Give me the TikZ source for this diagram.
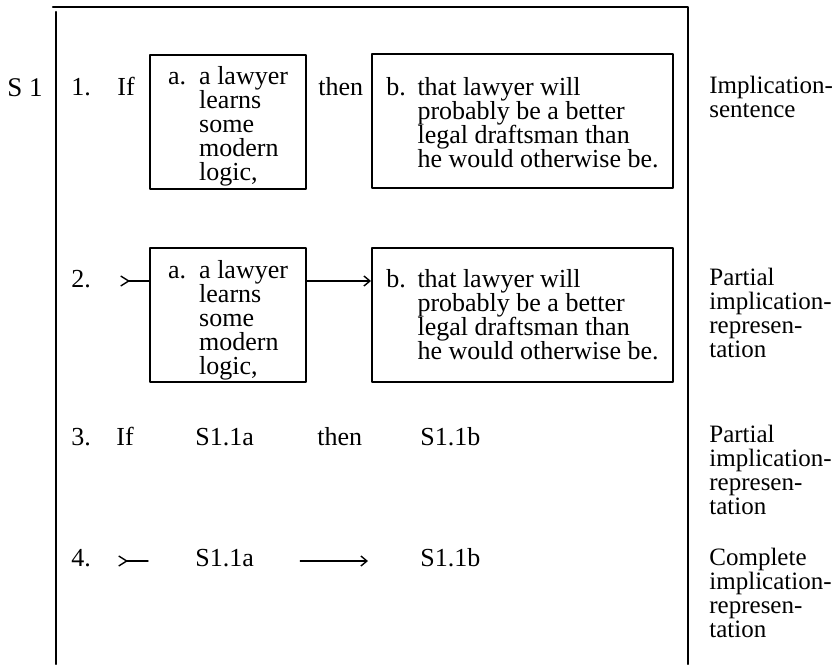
\documentclass[tikz,border=0pt]{standalone}
\usepackage{fontspec}
\setmainfont{Liberation Serif}
\usetikzlibrary{arrows.meta}
\newcommand{\itm}[1]{\makebox[1.2em][l]{#1}}
\newcommand{\lift}[1]{\rule{0pt}{#1}}
\begin{document}
\begin{tikzpicture}[x=0.5pt,y=-0.5pt,font=\fontsize{13}{12}\selectfont,line join=round,line cap=round,
		>={Straight Barb[length=3pt,width=5pt]},
		txt/.style={anchor=base west,inner sep=0pt},
		lbl/.style={anchor=north west,inner sep=0pt,align=left,font=\fontsize{12.5}{12}\selectfont},
		outline/.style={line width=1.2pt},
		stmt/.style={draw,line width=1pt,align=left,inner sep=0pt,minimum height=67pt},
		frege/.style={{Straight Barb[reversed,length=4pt,width=5pt]}-,line width=0.7pt}]
				\useasboundingbox (0,0) rectangle (834,664);
				\path 	
				(53,7) coordinate (TL)
				(688,7) coordinate (TR)
				(688,664) coordinate (BR)
				(56,12) coordinate (LT)
				(56,664) coordinate (LB)
				(120,281) coordinate (T2)
				(118,561) coordinate (T4)
				(148,561) coordinate (T4')
				;
				\draw[outline] (TL)--(TR)--(BR);
				\draw[outline] (LT)--(LB);
				\node[txt,font=\fontsize{13.5}{14}\selectfont] (S) at (7,96) {S 1};
				% 1.
				\node[txt] (n1) at (71,95) {1.};
				\node[txt] (if1) at (117,95) {If};
				\node[stmt,minimum width=78pt] (a1) at (228,122) {\itm{a.}\lift{13pt}a lawyer\\\itm{}learns\\\itm{}some\\\itm{}modern\\\itm{}logic,};
				\node[txt] (then1) at (318,95) {then};
				\node[stmt,minimum width=150.5pt] (b1) at (522.5,121) {\itm{b.}\lift{11pt}that lawyer will\\\itm{}probably be a better\\\itm{}legal draftsman than\\\itm{}he would otherwise be.};
				\node[lbl] (l1) at (709,76) {Implication-\\sentence};
				% 2.
				\node[txt] (n2) at (71,287) {2.};
				\node[stmt,minimum width=78pt] (a2) at (228,314.5) {\itm{a.}\lift{15pt}a lawyer\\\itm{}learns\\\itm{}some\\\itm{}modern\\\itm{}logic,};
				\node[stmt,minimum width=150.5pt] (b2) at (522.5,314.5) {\itm{b.}that lawyer will\\\itm{}probably be a better\\\itm{}legal draftsman than\\\itm{}he would otherwise be.};
				\draw[frege] (T2)--(a2.west |- T2);
				\draw[->,line width=0.7pt] (a2.east |- T2)--(b2.west |- T2);
				\node[lbl] (l2) at (709,268) {Partial\\implication-\\represen-\\tation};
				% 3.
				\node[txt] (n3) at (71,445) {3.};
				\node[txt] (if3) at (116,445) {If};
				\node[txt] (a3) at (195,445) {S1.1a};
				\node[txt] (then3) at (317,445) {then};
				\node[txt] (b3) at (420,445) {S1.1b};
				\node[lbl] (l3) at (709,425) {Partial\\implication-\\represen-\\tation};
				% 4.
				\node[txt] (n4) at (71,566) {4.};
				\draw[frege] (T4)--(T4');
				\node[txt] (a4) at (195,566) {S1.1a};
				\node[txt] (b4) at (420,566) {S1.1b};
				\draw[->,line width=0.7pt,shorten <=23pt,shorten >=26pt] (a4.east |- T4)--(b4.west |- T4);
				\node[lbl] (l4) at (709,548) {Complete\\implication-\\represen-\\tation};
			\end{tikzpicture}
\end{document}
